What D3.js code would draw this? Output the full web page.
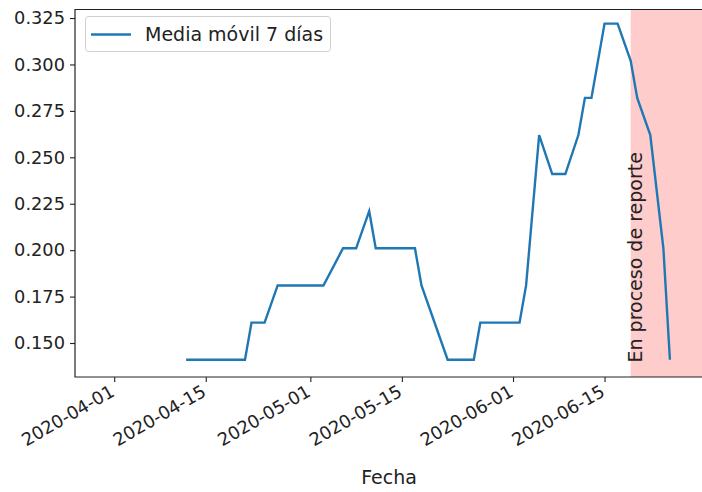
<!DOCTYPE html>
<html>
<head>
<meta charset="utf-8">
<script src="https://cdn.jsdelivr.net/npm/d3@7"></script>
<style>
  html, body { margin: 0; padding: 0; background: #fff; }
  svg { display: block; }
  text { font-family: "DejaVu Sans", sans-serif; }
</style>
</head>
<body>
<svg id="chart" width="702" height="492"></svg>
<script>
// ---- data ----
const dates = ["2020-04-12","2020-04-21","2020-04-22","2020-04-24","2020-04-26","2020-05-03",
  "2020-05-06","2020-05-08","2020-05-10","2020-05-11","2020-05-17","2020-05-18","2020-05-22",
  "2020-05-26","2020-05-27","2020-06-02","2020-06-03","2020-06-05","2020-06-07","2020-06-09",
  "2020-06-11","2020-06-12","2020-06-13","2020-06-15","2020-06-17","2020-06-19","2020-06-20",
  "2020-06-22","2020-06-24","2020-06-25"];
const values = [0.141,0.141,0.161,0.161,0.181,0.181,
  0.201,0.201,0.221,0.201,0.201,0.181,0.141,
  0.141,0.161,0.161,0.181,0.262,0.241,0.241,
  0.262,0.282,0.282,0.322,0.322,0.302,0.282,
  0.262,0.201,0.141];
const xTickLabels = ["2020-04-01","2020-04-15","2020-05-01","2020-05-15","2020-06-01","2020-06-15"];
const yTickValues = [0.150,0.175,0.200,0.225,0.250,0.275,0.300,0.325];
const spanStart = "2020-06-19";
const spanEnd = "2020-07-05";
const xDomain = ["2020-03-26","2020-06-30"];
const yDomain = [0.1317, 0.3296];
const seriesLabel = "Media móvil 7 días";
const spanLabel = "En proceso de reporte";
const xLabel = "Fecha";

// ---- layout ----
const parse = d3.utcParse("%Y-%m-%d");
const L = 75, R = 702.6, T = 9.5, B = 377;
const svg = d3.select("#chart");
const x = d3.scaleUtc().domain(xDomain.map(parse)).range([L, R]);
const y = d3.scaleLinear().domain(yDomain).range([B, T]);
const fsTick = 17.8;
const fsText = 19;

// span
svg.append("clipPath").attr("id","clip").append("rect")
  .attr("x", L).attr("y", T).attr("width", R - L).attr("height", B - T);
const plot = svg.append("g").attr("clip-path","url(#clip)");
plot.append("rect")
  .attr("x", x(parse(spanStart))).attr("y", T)
  .attr("width", x(parse(spanEnd)) - x(parse(spanStart)))
  .attr("height", B - T)
  .attr("fill", "#ff0000").attr("fill-opacity", 0.2);

// line
const data = dates.map((d,i) => ({d: parse(d), v: values[i]}));
plot.append("path").datum(data)
  .attr("fill","none").attr("stroke","#1f77b4").attr("stroke-width",2.4)
  .attr("stroke-linejoin","miter").attr("stroke-linecap","butt")
  .attr("d", d3.line().x(p => x(p.d)).y(p => y(p.v)));

// span label
svg.append("text")
  .attr("transform", `translate(${x(parse(spanStart)) + 11.5},362.5) rotate(-90)`)
  .attr("font-size", fsText).attr("fill","#222")
  .text(spanLabel);

// axes
const yAxis = d3.axisLeft(y).tickValues(yTickValues).tickFormat(d3.format(".3f"))
  .tickSize(5).tickPadding(5);
const gy = svg.append("g").attr("transform",`translate(${L},0)`).call(yAxis);
gy.select(".domain").remove();
gy.selectAll("text").attr("font-size", fsTick).attr("fill","#222").attr("font-family","DejaVu Sans");
gy.selectAll("line").attr("stroke","#222").attr("stroke-width",1.1);

const xAxis = d3.axisBottom(x).tickValues(xTickLabels.map(parse))
  .tickFormat(d3.utcFormat("%Y-%m-%d")).tickSize(5);
const gx = svg.append("g").attr("transform",`translate(0,${B})`).call(xAxis);
gx.select(".domain").remove();
gx.selectAll("line").attr("stroke","#222").attr("stroke-width",1.1);
gx.selectAll("text")
  .attr("font-size", fsTick).attr("fill","#222").attr("font-family","DejaVu Sans")
  .attr("text-anchor","end")
  .attr("dy", 0).attr("y", 0)
  .attr("transform","translate(1,18) rotate(-30)");

// spines
svg.append("path")
  .attr("d", `M${R},${T}H${L}V${B}H${R}`)
  .attr("fill","none").attr("stroke","#222").attr("stroke-width",1.2);

// x label
svg.append("text").attr("x", 389).attr("y", 484)
  .attr("text-anchor","middle").attr("font-size", fsText).attr("fill","#222")
  .text(xLabel);

// legend
const lg = svg.append("g");
lg.append("rect").attr("x",85.5).attr("y",16.5).attr("width",245).attr("height",35)
  .attr("rx",3).attr("fill","#fff").attr("fill-opacity",0.8)
  .attr("stroke","#d0d0d0").attr("stroke-width",1);
lg.append("line").attr("x1",91).attr("x2",131).attr("y1",34.5).attr("y2",34.5)
  .attr("stroke","#1f77b4").attr("stroke-width",2.4);
lg.append("text").attr("x",145).attr("y",41).attr("font-size",fsText).attr("fill","#222")
  .text(seriesLabel);
</script>
</body>
</html>
